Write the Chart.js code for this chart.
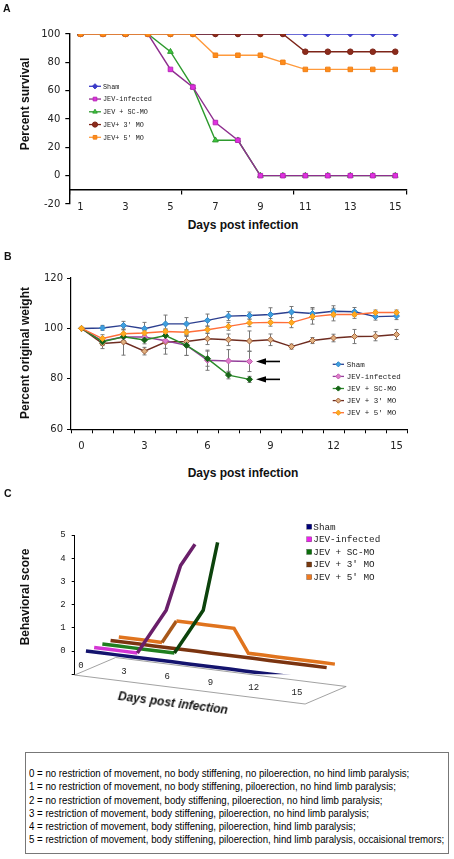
<!DOCTYPE html>
<html>
<head>
<meta charset="utf-8">
<script src="https://cdn.jsdelivr.net/npm/chart.js@4.4.1/dist/chart.umd.min.js"></script>
<style>
body { margin: 0; background: #fff; }
#page { position: relative; width: 454px; height: 859px; overflow: hidden; font-family: "Liberation Sans", Arial, sans-serif; color: #111; }
canvas { position: absolute; left: 0; }
.letter { position: absolute; font-weight: bold; font-size: 10.5px; line-height: 1; }
.title { position: absolute; font-weight: bold; font-size: 12px; line-height: 1; white-space: nowrap; }
#scoreKey { position: absolute; left: 25px; top: 752px; width: 424px; height: 102px; border: 1px solid #777; box-sizing: border-box; padding: 14px 0 0 3px; font-family: "Liberation Sans", Arial, sans-serif; font-size: 11.5px; line-height: 13.3px; white-space: nowrap; color: #000; }
#scoreKey span { display: inline-block; transform-origin: 0 50%; }
</style>
</head>
<body>
<div id="page">
  <canvas id="survivalChart" width="454" height="215" style="top:0px"></canvas>
  <canvas id="weightChart" width="454" height="220" style="top:240px"></canvas>
  <canvas id="scoreChart" width="454" height="240" style="top:480px"></canvas>

  <div class="letter" style="left:3px; top:2.5px">A</div>
  <div class="letter" style="left:4px; top:250.5px">B</div>
  <div class="letter" style="left:4px; top:487.5px">C</div>

  <div class="title" style="left:25px; top:104px; transform:translate(-50%,-50%) rotate(-90deg)">Percent survival</div>
  <div class="title" style="left:243px; top:225px; transform:translate(-50%,-50%)">Days post infection</div>
  <div class="title" style="left:25px; top:353px; transform:translate(-50%,-50%) rotate(-90deg)">Percent original weight</div>
  <div class="title" style="left:243px; top:473px; transform:translate(-50%,-50%)">Days post infection</div>
  <div class="title" style="left:25px; top:597px; transform:translate(-50%,-50%) rotate(-90deg)">Behavioral score</div>
  <div class="title" style="left:173px; top:703px; font-style:italic; transform:translate(-50%,-50%) rotate(7.4deg)">Days post infection</div>

  <div id="scoreKey"></div>
</div>

<script>
// ---- panel A : survival ----
var survivalDays = ['1', '2', '3', '4', '5', '6', '7', '8', '9', '10', '11', '12', '13', '14', '15'];
var survivalSham = [100, 100, 100, 100, 100, 100, 100, 100, 100, 100, 100, 100, 100, 100, 100];
var survivalJev = [100, 100, 100, 100, 75, 62.5, 37.5, 25, 0, 0, 0, 0, 0, 0, 0];
var survivalScMo = [100, 100, 100, 100, 87.5, 62.5, 25, 25, 0, 0, 0, 0, 0, 0, 0];
var survival3Mo = [100, 100, 100, 100, 100, 100, 100, 100, 100, 100, 87.5, 87.5, 87.5, 87.5, 87.5];
var survival5Mo = [100, 100, 100, 100, 100, 100, 85, 85, 85, 80, 75, 75, 75, 75, 75];
var survivalNames = ['Sham', 'JEV-infected', 'JEV + SC-MO', "JEV+ 3' MO", "JEV+ 5' MO"];

// ---- panel B : weight (mean and error) ----
var weightDays = ['0', '1', '2', '3', '4', '5', '6', '7', '8', '9', '10', '11', '12', '13', '14', '15'];
var weightSham = [100, 100.2, 101.2, 99.9, 101.8, 101.8, 103.2, 104.9, 105.1, 105.5, 106.5, 105.9, 106.8, 106.6, 104.7, 104.9];
var weightShamErr = [0, 1, 1.6, 2.5, 3.5, 2.5, 2.5, 1.8, 1.4, 2.7, 2.2, 2.4, 2.2, 1.7, 1.4, 1.4];
var weightJev = [100, 95.0, 96.6, 96.6, 95.1, 93.3, 87.4, 87.1, 86.9];
var weightJevErr = [0, 1.5, 1.5, 1.5, 3, 4, 4, 4.5, 4];
var weightScMo = [100, 94.7, 96.7, 95.4, 97.2, 93.3, 88.0, 81.5, 79.8];
var weightScMoErr = [0, 1.5, 1.5, 1.5, 2.5, 4, 3, 1.5, 1.2];
var weight3Mo = [100, 94.0, 94.6, 91.0, 94.6, 94.8, 95.9, 95.5, 95.0, 95.5, 92.8, 95.2, 96.2, 96.8, 96.9, 97.6];
var weight3MoErr = [0, 2, 5.2, 1.5, 4.8, 2, 2.3, 2.3, 4, 2.3, 1, 1.2, 1.5, 2.8, 1.8, 2];
var weight5Mo = [100, 96.0, 97.9, 98.2, 98.8, 98.5, 99.5, 100.8, 102.2, 102.4, 102.3, 104.7, 105.5, 105.5, 106.3, 106.3];
var weight5MoErr = [0, 1.5, 1.5, 1, 1, 1, 1.5, 1.5, 1.5, 1.5, 2, 3, 2.5, 1.5, 1, 1];
var groupNames = ['Sham', 'JEV-infected', 'JEV + SC-MO', "JEV + 3' MO", "JEV + 5' MO"];

// ---- panel C : behavioral score ----
var scoreDays = [0, 1, 2, 3, 4, 5, 6, 7, 8, 9, 10, 11, 12, 13, 14, 15];
var scoreDayLabels = [0, 3, 6, 9, 12, 15];
var scoreSham = [0, 0, 0, 0, 0, 0, 0, 0, 0, 0, 0, 0, 0, 0, 0, 0];
var scoreJev = [0, 0, 0, 0, 1, 2, 4, 5];
var scoreScMo = [0, 0, 0, 0, 0, 0, 1, 2, 5];
var score3Mo = [0, 0, 0, 0, 0, 0, 0, 0, 0, 0, 0, 0, 0, 0, 0, 0];
var score5Mo = [0, 0, 0, 0, 1, 1, 1, 1, 1, 0, 0, 0, 0, 0, 0, 0];
var scoreKeyLines = [
    '0 = no restriction of movement, no body stiffening, no piloerection, no hind limb paralysis;',
    '1 = no restriction of movement, no body stiffening, piloerection, no hind limb paralysis;',
    '2 = no restriction of movement, body stiffening, piloerection, no hind limb paralysis;',
    '3 = restriction of movement, body stiffening, piloerection, no hind limb paralysis;',
    '4 = restriction of movement, body stiffening, piloerection, hind limb paralysis;',
    '5 = restriction of movement, body stiffening, piloerection, hind limb paralysis, occaisional tremors;'
];

var tickFont = { family: 'DejaVu Sans', size: 10 };

// the key box uses a narrow face: squeeze the lines so the longest one spans 415px
var keySpans = scoreKeyLines.map(function (line) {
    var div = document.createElement('div');
    var span = document.createElement('span');
    span.textContent = line;
    div.appendChild(span);
    document.getElementById('scoreKey').appendChild(div);
    return span;
});
var widest = Math.max.apply(null, keySpans.map(function (s) { return s.offsetWidth; }));
keySpans.forEach(function (s) { s.style.transform = 'scaleX(' + (415 / widest) + ')'; });


/**
 *  Draws a legend marker the way Chart.js draws points.
 */
function drawMarker(ctx, style, x, y, r, fill, stroke) {
    ctx.fillStyle = fill;
    ctx.strokeStyle = stroke;
    ctx.lineWidth = 1;
    Chart.helpers.drawPoint(ctx, { pointStyle: style, rotation: 0, radius: r, borderWidth: 1 }, x, y);
}


/**
 *  Hand placed legend, one row per dataset.
 */
var seriesKey = {
    id: 'seriesKey',
    afterDraw: function (chart, args, opts) {
        var ctx = chart.ctx;
        ctx.save();
        ctx.font = opts.font;
        ctx.textBaseline = 'middle';
        chart.data.datasets.forEach(function (ds, i) {
            var y = opts.y + i * opts.step;
            if (opts.box) {
                ctx.fillStyle = ds.keyColor;
                ctx.fillRect(opts.x0, y - 2.5, 5, 5);
                ctx.strokeStyle = 'rgba(0,0,0,0.5)';
                ctx.lineWidth = 0.5;
                ctx.strokeRect(opts.x0, y - 2.5, 5, 5);
            } else {
                ctx.strokeStyle = ds.borderColor;
                ctx.lineWidth = 1.3;
                ctx.beginPath();
                ctx.moveTo(opts.x0, y);
                ctx.lineTo(opts.x1, y);
                ctx.stroke();
                drawMarker(ctx, ds.pointStyle, (opts.x0 + opts.x1) / 2, y, 2.6, ds.pointBackgroundColor, ds.pointBorderColor);
            }
            ctx.fillStyle = '#222';
            ctx.fillText(ds.label, opts.textX, y + 0.5);
        });
        ctx.restore();
    }
};


/**
 *  Error bars for the weight chart, read from dataset.errors.
 */
var errorBars = {
    id: 'errorBars',
    beforeDatasetsDraw: function (chart) {
        var ctx = chart.ctx;
        var yScale = chart.scales.y;
        ctx.save();
        ctx.strokeStyle = '#777';
        ctx.lineWidth = 1;
        chart.data.datasets.forEach(function (ds, i) {
            if (!ds.errors) return;
            chart.getDatasetMeta(i).data.forEach(function (pt, j) {
                var e = ds.errors[j];
                if (!e) return;
                var top = yScale.getPixelForValue(ds.data[j] + e);
                var bottom = yScale.getPixelForValue(ds.data[j] - e);
                ctx.beginPath();
                ctx.moveTo(pt.x, top); ctx.lineTo(pt.x, bottom);
                ctx.moveTo(pt.x - 2, top); ctx.lineTo(pt.x + 2, top);
                ctx.moveTo(pt.x - 2, bottom); ctx.lineTo(pt.x + 2, bottom);
                ctx.stroke();
            });
        });
        ctx.restore();
    }
};


/**
 *  Arrow pointing at the last point of the flagged datasets.
 */
var lastPointArrow = {
    id: 'lastPointArrow',
    afterDatasetsDraw: function (chart) {
        var ctx = chart.ctx;
        ctx.save();
        ctx.fillStyle = '#000';
        ctx.strokeStyle = '#000';
        chart.data.datasets.forEach(function (ds, i) {
            if (!ds.pointer) return;
            var pts = chart.getDatasetMeta(i).data;
            var last = pts[pts.length - 1];
            var tip = last.x + 6.5;
            ctx.lineWidth = 1.6;
            ctx.beginPath();
            ctx.moveTo(tip + 8, last.y);
            ctx.lineTo(tip + 24, last.y);
            ctx.stroke();
            ctx.beginPath();
            ctx.moveTo(tip, last.y);
            ctx.lineTo(tip + 10, last.y - 3.2);
            ctx.lineTo(tip + 10, last.y + 3.2);
            ctx.closePath();
            ctx.fill();
        });
        ctx.restore();
    }
};


/**
 *  Survival chart (A).
 */
var survivalChart = new Chart(document.getElementById('survivalChart'), {
    type: 'line',
    data: {
        labels: survivalDays,
        datasets: [{
            label: survivalNames[0], data: survivalSham, order: 5,
            borderColor: '#3b3bc8', pointBackgroundColor: '#3b3bc8', pointBorderColor: '#3b3bc8',
            pointStyle: 'rectRot', pointRadius: 3
        }, {
            label: survivalNames[1], data: survivalJev, order: 3,
            borderColor: '#8e2f8e', pointBackgroundColor: '#e030e0', pointBorderColor: '#b828b8',
            pointStyle: 'rect', pointRadius: 3.2
        }, {
            label: survivalNames[2], data: survivalScMo, order: 4,
            borderColor: '#2e9a2e', pointBackgroundColor: '#3ec83e', pointBorderColor: '#2e9a2e',
            pointStyle: 'triangle', pointRadius: 3.3
        }, {
            label: survivalNames[3], data: survival3Mo, order: 2,
            borderColor: '#7d2418', pointBackgroundColor: '#8c2c1c', pointBorderColor: '#7d2418',
            pointStyle: 'circle', pointRadius: 2.8
        }, {
            label: survivalNames[4], data: survival5Mo, order: 1,
            borderColor: '#ff9a3c', pointBackgroundColor: '#ff8c1a', pointBorderColor: '#f08018',
            pointStyle: 'rect', pointRadius: 3.2
        }]
    },
    options: {
        responsive: false,
        animation: false,
        events: [],
        elements: { line: { borderWidth: 1.4, tension: 0 } },
        layout: { padding: { top: 34, right: 47.5, bottom: 0, left: 0 } },
        plugins: {
            legend: { display: false },
            tooltip: { enabled: false },
            seriesKey: { x0: 89, x1: 101, textX: 103, y: 86.3, step: 12.75, font: '6.8px "Liberation Mono"' }
        },
        scales: {
            x: {
                axis: 'x',
                type: 'category',
                position: { y: -10 },
                offset: true,
                afterFit: function (s) { s.height = 12; },
                grid: {
                    offset: true, drawOnChartArea: false, tickLength: 4, lineWidth: 1.2,
                    tickColor: function (c) { return (c.index === undefined || c.index % 5 === 0) ? '#000' : 'rgba(0,0,0,0)'; }
                },
                border: { color: '#000', width: 1.4 },
                ticks: {
                    autoSkip: false, maxRotation: 0, padding: 8, font: tickFont, color: '#222',
                    callback: function (value, index) { return index % 2 === 0 ? this.getLabelForValue(value) : ''; }
                }
            },
            y: {
                min: -20, max: 100,
                afterFit: function (s) { s.width = 69.3; },
                grid: { drawOnChartArea: false, tickLength: 4, tickColor: '#000', lineWidth: 1.2 },
                border: { color: '#000', width: 1.4 },
                ticks: {
                    stepSize: 10, padding: 5, font: tickFont, color: '#222',
                    callback: function (v) { return v % 20 === 0 ? v : ''; }
                }
            }
        }
    },
    plugins: [seriesKey]
});


/**
 *  Weight chart (B).
 */
var weightChart = new Chart(document.getElementById('weightChart'), {
    type: 'line',
    data: {
        labels: weightDays,
        datasets: [{
            label: groupNames[0], data: weightSham, errors: weightShamErr, order: 4,
            borderColor: '#2c3f8f', pointBackgroundColor: '#3f9fdf', pointBorderColor: '#2f86c8',
            pointStyle: 'rectRot', pointRadius: 3
        }, {
            label: groupNames[1], data: weightJev, errors: weightJevErr, order: 3, pointer: true,
            borderColor: '#93409a', pointBackgroundColor: '#e07ccc', pointBorderColor: '#c05cae',
            pointStyle: 'rectRot', pointRadius: 3
        }, {
            label: groupNames[2], data: weightScMo, errors: weightScMoErr, order: 2, pointer: true,
            borderColor: '#2a8a2a', pointBackgroundColor: '#166416', pointBorderColor: '#166416',
            pointStyle: 'rectRot', pointRadius: 3
        }, {
            label: groupNames[3], data: weight3Mo, errors: weight3MoErr, order: 5,
            borderColor: '#6e2c20', pointBackgroundColor: '#e0b080', pointBorderColor: '#a0603a',
            pointStyle: 'rectRot', pointRadius: 3
        }, {
            label: groupNames[4], data: weight5Mo, errors: weight5MoErr, order: 1,
            borderColor: '#ff6e3a', pointBackgroundColor: '#ffaa22', pointBorderColor: '#f49a18',
            pointStyle: 'rectRot', pointRadius: 3
        }]
    },
    options: {
        responsive: false,
        animation: false,
        events: [],
        elements: { line: { borderWidth: 1.4, tension: 0 } },
        layout: { padding: { top: 38, right: 47, bottom: 0, left: 0 } },
        plugins: {
            legend: { display: false },
            tooltip: { enabled: false },
            seriesKey: { x0: 332.7, x1: 344, textX: 346.7, y: 124.3, step: 12.1, font: '7.5px "Liberation Mono"' }
        },
        scales: {
            x: {
                type: 'category',
                offset: true,
                afterFit: function (s) { s.height = 30.7; },
                grid: { offset: true, drawOnChartArea: false, tickLength: 4, tickColor: '#000', lineWidth: 1 },
                border: { color: '#000', width: 1.2 },
                ticks: {
                    autoSkip: false, maxRotation: 0, padding: 7.5, font: tickFont, color: '#222',
                    callback: function (value, index) { return index % 3 === 0 ? this.getLabelForValue(value) : ''; }
                }
            },
            y: {
                min: 60, max: 120,
                afterFit: function (s) { s.width = 71; },
                grid: { drawOnChartArea: false, tickLength: 4, tickColor: '#000', lineWidth: 1 },
                border: { color: '#000', width: 1.2 },
                ticks: { stepSize: 20, padding: 4, font: tickFont, color: '#222' }
            }
        }
    },
    plugins: [errorBars, lastPointArrow, seriesKey]
});


/**
 *  Behavioral score chart (C): a flat oblique projection of (day, score, depth).
 */
var DEPTH_X = 0.57;    // one series step, in days
var DAY_DROP = 0.078;  // fall of one day, in score units
var DEPTH_Y = 0.151;   // rise of one series step, in score units

function project(day, score, depth) {
    return { x: day + depth * DEPTH_X, y: score - day * DAY_DROP + depth * DEPTH_Y };
}

function scorePoints(scores, depth) {
    return scores.map(function (s, d) { return project(scoreDays[d], s, depth); });
}

function riseColor(dark) {
    return function (c) { return c.p1.parsed.y - c.p0.parsed.y > 0.3 ? dark : undefined; };
}

var floorGrid = {
    id: 'floorGrid',
    beforeDatasetsDraw: function (chart) {
        var ctx = chart.ctx, xs = chart.scales.x, ys = chart.scales.y;
        function px(p) { return [xs.getPixelForValue(p.x), ys.getPixelForValue(p.y)]; }
        var first = scoreDays[0] - 0.5, last = scoreDays[scoreDays.length - 1] + 0.5;
        var corners = [project(first, -1, -0.5), project(last, -1, -0.5), project(last, -1, 4.5), project(first, -1, 4.5)].map(px);
        ctx.save();
        ctx.strokeStyle = '#8a8a8a';
        ctx.lineWidth = 0.8;
        ctx.beginPath();
        ctx.moveTo(corners[0][0], corners[0][1]);
        for (var i = 1; i < 4; i++) ctx.lineTo(corners[i][0], corners[i][1]);
        ctx.closePath();
        ctx.stroke();
        ctx.fillStyle = '#222';
        ctx.font = '9px "Liberation Mono"';
        ctx.textAlign = 'center';
        ctx.textBaseline = 'middle';
        scoreDayLabels.forEach(function (d) {
            var p = px(project(d, -1, -0.5));
            ctx.fillText(String(d), p[0] - 1, p[1] - 10);
        });
        ctx.restore();
    }
};

var scoreChart = new Chart(document.getElementById('scoreChart'), {
    type: 'scatter',
    data: {
        datasets: [{
            label: groupNames[0], data: scorePoints(scoreSham, 0), keyColor: '#00007a',
            borderColor: '#14146e'
        }, {
            label: groupNames[1], data: scorePoints(scoreJev, 1), keyColor: '#ee22ee',
            borderColor: '#d436d4', segment: { borderColor: riseColor('#6a1f6a') }
        }, {
            label: groupNames[2], data: scorePoints(scoreScMo, 2), keyColor: '#0a6e0a',
            borderColor: '#1f7f1f', segment: { borderColor: riseColor('#0c430c') }
        }, {
            label: groupNames[3], data: scorePoints(score3Mo, 3), keyColor: '#7a3a10',
            borderColor: '#7b3410'
        }, {
            label: groupNames[4], data: scorePoints(score5Mo, 4), keyColor: '#f07a20',
            borderColor: '#e0741e', segment: { borderColor: riseColor('#a8581a') }
        }]
    },
    options: {
        responsive: false,
        animation: false,
        events: [],
        showLine: true,
        elements: { line: { borderWidth: 3.5, tension: 0, borderJoinStyle: 'miter' }, point: { radius: 0 } },
        layout: { padding: { top: 55, right: 104, bottom: 45.8, left: 0 } },
        plugins: {
            legend: { display: false },
            tooltip: { enabled: false },
            seriesKey: { box: true, x0: 306.7, textX: 313.3, y: 46.7, step: 12.6, font: '9.3px "Liberation Mono"' }
        },
        scales: {
            x: { type: 'linear', display: false, min: -0.78, max: 18.33 },
            y: {
                min: -1, max: 5,
                afterFit: function (s) { s.width = 74.7; },
                grid: { drawOnChartArea: false, tickLength: 3, tickColor: '#000', lineWidth: 1 },
                border: { color: '#000', width: 1 },
                ticks: {
                    stepSize: 1, padding: 6, color: '#222', font: { family: 'Liberation Mono', size: 9 },
                    callback: function (v) { return v < 0 ? '' : v; }
                }
            }
        }
    },
    plugins: [floorGrid, seriesKey]
});
</script>
</body>
</html>
